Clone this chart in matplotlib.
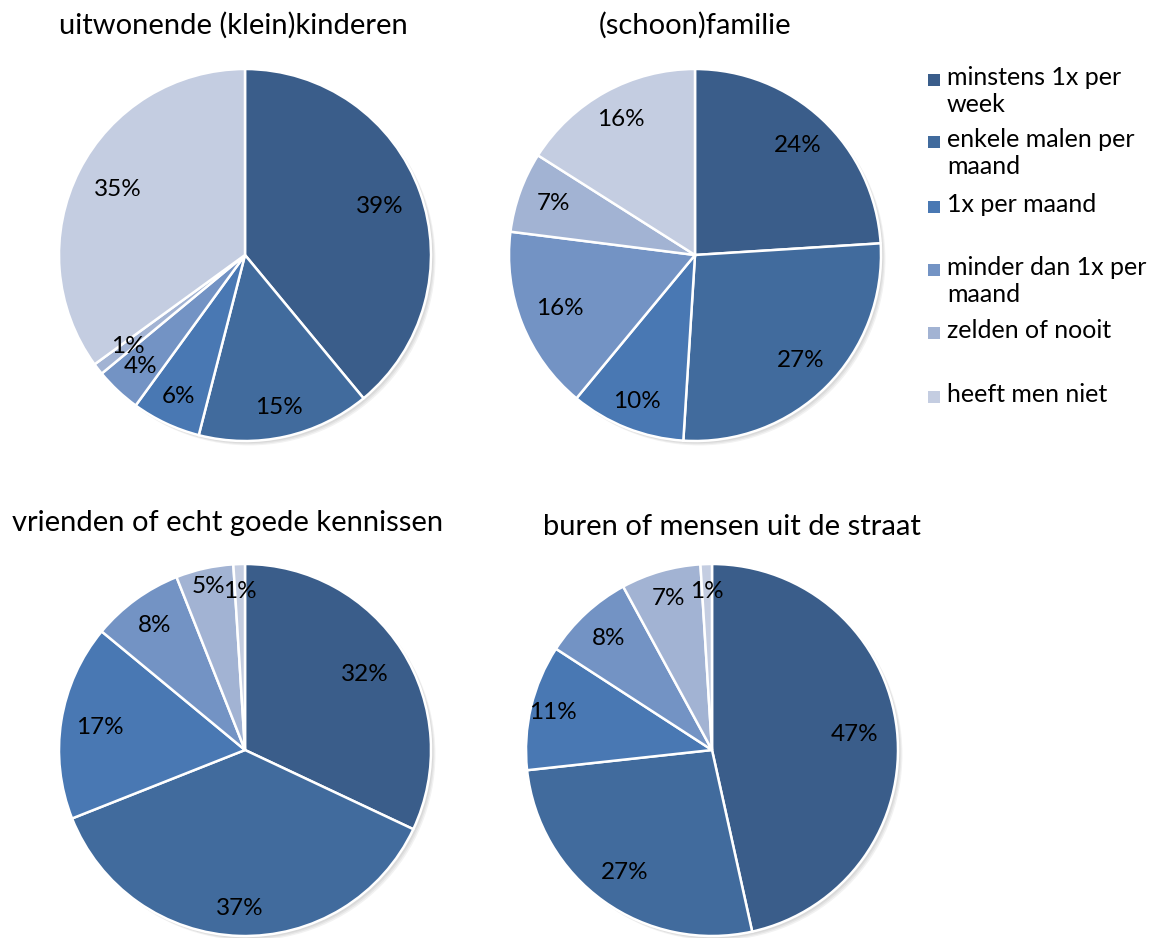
import matplotlib
matplotlib.use("Agg")
import numpy as np
import matplotlib.pyplot as plt
from matplotlib.patches import Rectangle

plt.rcParams['font.family'] = ['Lato', 'DejaVu Sans']

categories = ["minstens 1x per\nweek", "enkele malen per\nmaand", "1x per maand",
              "minder dan 1x per\nmaand", "zelden of nooit", "heeft men niet"]
colors = ["#3A5D8A", "#416B9D", "#4978B3", "#7393C4", "#A2B3D3", "#C4CDE1"]

titles = ["uitwonende (klein)kinderen", "(schoon)familie",
          "vrienden of echt goede kennissen", "buren of mensen uit de straat"]
kinderen = [39, 15, 6, 4, 1, 35]
familie = [24, 27, 10, 16, 7, 16]
vrienden = [32, 37, 17, 8, 5, 1]
buren = [47, 27, 11, 8, 7, 1]
series = [kinderen, familie, vrienden, buren]

# radial position of each percentage label (fraction of radius)
label_dist = [
    [0.77, 0.84, 0.84, 0.82, 0.80, 0.77],
    [0.81, 0.80, 0.85, 0.78, 0.81, 0.83],
    [0.76, 0.85, 0.79, 0.83, 0.90, 0.85],
    [0.77, 0.81, 0.88, 0.82, 0.85, 0.85],
]

W, H = 1158, 938
fig = plt.figure(figsize=(W / 100, H / 100), dpi=100)

# pie centre (px), radius (px), title centre (px)
layout = [
    ((245, 255), 186, (233, 25)),
    ((695, 255), 186, (695, 25)),
    ((245, 750), 186, (228, 523)),
    ((712, 750), 186, (732, 527)),
]

for vals, dists, title, ((cx, cy), r, (tx, ty)) in zip(series, label_dist, titles, layout):
    pad = 1.03
    ax = fig.add_axes([(cx - r * pad) / W, 1 - (cy + r * pad) / H,
                       2 * r * pad / W, 2 * r * pad / H])
    # soft drop shadow
    for k in range(3):
        sh = plt.Circle((0.012 + 0.006 * k, -0.012 - 0.006 * k), 1.0,
                        color="black", alpha=0.05, lw=0, zorder=0)
        ax.add_patch(sh)
    wedges, _ = ax.pie(
        vals, colors=colors, startangle=90, counterclock=False, radius=1.0,
        wedgeprops=dict(edgecolor="white", linewidth=1.8))
    for w, v, d in zip(wedges, vals, dists):
        w.set_zorder(2)
        mid = np.deg2rad((w.theta1 + w.theta2) / 2)
        ax.text(d * np.cos(mid), d * np.sin(mid), f"{v}%", ha="center",
                va="center", fontsize=17.5, color="black", zorder=3)
    ax.set_xlim(-pad, pad)
    ax.set_ylim(-pad, pad)
    ax.set_aspect("equal")
    ax.axis("off")
    fig.text(tx / W, 1 - ty / H, title, ha="center", va="center", fontsize=21)

# legend
leg_y = [80, 142, 207, 270, 333, 397]
for lab, col, y in zip(categories, colors, leg_y):
    fig.patches.append(Rectangle((928 / W, 1 - (y + 6) / H), 12 / W, 12 / H,
                                 transform=fig.transFigure, facecolor=col,
                                 edgecolor="none"))
    fig.text(947 / W, 1 - (y - 14) / H, lab, ha="left", va="top",
             fontsize=18, linespacing=1.2)

fig.savefig("out.png", dpi=100)
